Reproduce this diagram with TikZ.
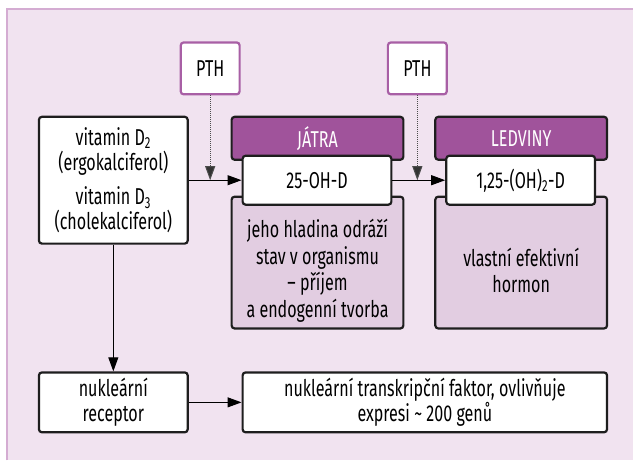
\documentclass[tikz,border=0pt]{standalone}
\usepackage{fontspec}
\setmainfont{Fira Sans}[FakeStretch=0.7]
\usetikzlibrary{arrows.meta,positioning}

\definecolor{panelbg}{HTML}{F1E3F0}
\definecolor{panelline}{HTML}{D4ACD2}
\definecolor{headpurple}{HTML}{A0539B}
\definecolor{notepurple}{HTML}{E2CDE1}
\definecolor{pthline}{HTML}{A85FA5}
\definecolor{boxline}{HTML}{1E1E1E}

\begin{document}
\begin{tikzpicture}[x=1pt,y=-1pt,
  font=\fontsize{23}{25}\selectfont,
  plainbox/.style={rectangle,draw=boxline,line width=2.2pt,rounded corners=3pt,fill=white,align=center,inner sep=0pt},
  headbox/.style={plainbox,fill=headpurple,text=white,minimum width=172pt,minimum height=43pt},
  notebox/.style={plainbox,fill=notepurple,minimum width=172pt,minimum height=132pt},
  valbox/.style={plainbox,minimum width=149pt,minimum height=49pt},
  pthbox/.style={plainbox,draw=pthline,minimum width=59pt,minimum height=52pt},
  flow/.style={-{Triangle[length=14pt,width=10pt]},line width=1pt},
  regul/.style={-{Triangle[length=14pt,width=10pt,fill=black!80]},line width=1pt,dash pattern=on 1pt off 1pt,draw=black!70}
]
% panel
\fill[panelbg] (7,9.5) rectangle (634,461);
\draw[panelline,line width=2pt] (7,461) -- (7,9.5) -- (634,9.5);
\useasboundingbox (0,0) rectangle (634,461);

% sources
\node[plainbox,minimum width=149pt,minimum height=127pt] (vit) at (113.5,180.5)
  {vitamin D\textsubscript{2}\\(ergokalciferol)\\[10pt]vitamin D\textsubscript{3}\\(cholekalciferol)};
\node[pthbox] (pth1) at (210.5,68.5) {PTH};
\node[pthbox] (pth2) at (418,68.5) {PTH};

% liver
\node[notebox] (jatra body) at (318,263) { };
\node[align=center,font=\fontsize{23}{26.5}\selectfont] (jatra text) at (318,271)
  {jeho hladina odráží\\stav v organismu\\-- příjem\\a endogenní tvorba};
\node[headbox] (jatra) at (318,138.5) {JÁTRA};
\node[valbox] (oh) at (317.5,180.5) {25-OH-D};

% kidney
\node[notebox] (ledviny body) at (522,263) { };
\node[align=center,font=\fontsize{23}{26.5}\selectfont] (ledviny text) at (522,271)
  {vlastní efektivní\\hormon};
\node[headbox] (ledviny) at (522,138.5) {LEDVINY};
\node[valbox] (dih) at (521.5,180.5) {1,25-(OH)\textsubscript{2}-D};

% nucleus
\node[plainbox,minimum width=149pt,minimum height=60pt] (rec) at (113.5,403) {nukleární\\receptor};
\node[plainbox,minimum width=365pt,minimum height=60pt] (fac) at (425.5,403)
  {nukleární transkripční faktor, ovlivňuje\\expresi \textasciitilde{} 200 genů};

\draw[flow] (vit.east) -- (oh.west);
\draw[flow] (oh.east) -- (dih.west);
\draw[regul] (pth1.south) -- (pth1.south |- oh.west);
\draw[regul] (pth2.south) -- (pth2.south |- dih.west);
\draw[flow] (vit.south) -- (rec.north);
\draw[flow] (rec.east) -- (fac.west);
\end{tikzpicture}
\end{document}
